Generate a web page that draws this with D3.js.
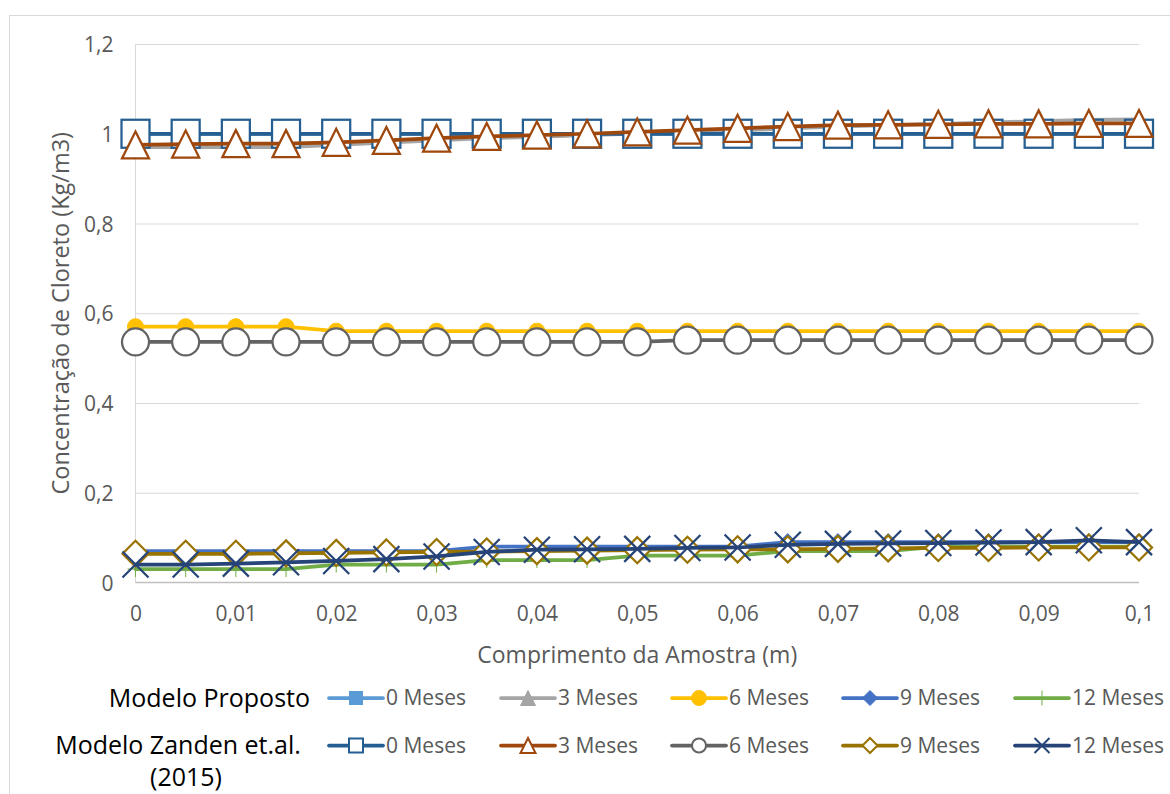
<!DOCTYPE html>
<html>
<head>
<meta charset="utf-8">
<script src="https://cdnjs.cloudflare.com/ajax/libs/d3/7.8.5/d3.min.js"></script>
<style>
  html, body { margin: 0; padding: 0; background: #ffffff; }
  svg { display: block; }
  text { font-family: "Open Sans", "Noto Sans", sans-serif; }
</style>
</head>
<body>
<svg id="chart" width="1170" height="794"></svg>
<script>
// Sample length positions (m)
const positions = [0, 0.005, 0.01, 0.015, 0.02, 0.025, 0.03, 0.035, 0.04, 0.045, 0.05,
                   0.055, 0.06, 0.065, 0.07, 0.075, 0.08, 0.085, 0.09, 0.095, 0.1];

// Modelo Proposto
const proposto0  = [1, 1, 1, 1, 1, 1, 1, 1, 1, 1, 1, 1, 1, 1, 1, 1, 1, 1, 1, 1, 1];
const proposto3  = [0.97, 0.97, 0.97, 0.97, 0.975, 0.98, 0.985, 0.99, 0.993, 0.997, 1.0,
                    1.003, 1.007, 1.012, 1.016, 1.019, 1.022, 1.025, 1.028, 1.031, 1.032];
const proposto6  = [0.57, 0.57, 0.57, 0.57, 0.56, 0.56, 0.56, 0.56, 0.56, 0.56, 0.56,
                    0.56, 0.56, 0.56, 0.56, 0.56, 0.56, 0.56, 0.56, 0.56, 0.56];
const proposto9  = [0.07, 0.07, 0.07, 0.07, 0.07, 0.07, 0.07, 0.08, 0.08, 0.08, 0.08,
                    0.08, 0.08, 0.09, 0.09, 0.09, 0.09, 0.09, 0.09, 0.09, 0.09];
const proposto12 = [0.03, 0.03, 0.03, 0.03, 0.04, 0.04, 0.04, 0.05, 0.05, 0.05, 0.06,
                    0.06, 0.06, 0.07, 0.07, 0.07, 0.08, 0.08, 0.08, 0.08, 0.08];

// Modelo Zanden et.al. (2015)
const zanden0  = [1, 1, 1, 1, 1, 1, 1, 1, 1, 1, 1, 1, 1, 1, 1, 1, 1, 1, 1, 1, 1];
const zanden3  = [0.975, 0.977, 0.978, 0.978, 0.981, 0.985, 0.99, 0.994, 0.997, 1.0, 1.004,
                  1.008, 1.012, 1.016, 1.019, 1.02, 1.021, 1.022, 1.022, 1.023, 1.023];
const zanden6  = [0.536, 0.536, 0.536, 0.536, 0.536, 0.536, 0.536, 0.536, 0.536, 0.536, 0.536,
                  0.54, 0.54, 0.54, 0.54, 0.54, 0.54, 0.54, 0.54, 0.54, 0.54];
const zanden9  = [0.064, 0.064, 0.064, 0.065, 0.066, 0.067, 0.068, 0.069, 0.07, 0.071, 0.072,
                  0.073, 0.074, 0.074, 0.075, 0.076, 0.077, 0.077, 0.078, 0.078, 0.078];
const zanden12 = [0.04, 0.04, 0.042, 0.045, 0.048, 0.052, 0.058, 0.068, 0.073, 0.074, 0.075,
                  0.077, 0.078, 0.084, 0.086, 0.087, 0.088, 0.089, 0.09, 0.094, 0.09];

const xTicks = [0, 0.01, 0.02, 0.03, 0.04, 0.05, 0.06, 0.07, 0.08, 0.09, 0.1];
const yTicks = [0, 0.2, 0.4, 0.6, 0.8, 1, 1.2];

const groupLabels = ["Modelo Proposto", "Modelo Zanden et.al.", "(2015)"];
const seriesLabels = ["0 Meses", "3 Meses", "6 Meses", "9 Meses", "12 Meses"];

const series = [
  { values: proposto0,  color: "#5B9BD5", marker: "square",   filled: true,  row: 0, col: 0 },
  { values: proposto3,  color: "#A5A5A5", marker: "triangle", filled: true,  row: 0, col: 1 },
  { values: proposto6,  color: "#FFC000", marker: "circle",   filled: true,  row: 0, col: 2 },
  { values: proposto9,  color: "#4472C4", marker: "diamond",  filled: true,  row: 0, col: 3 },
  { values: proposto12, color: "#70AD47", marker: "plus",     filled: true,  row: 0, col: 4 },
  { values: zanden0,    color: "#255E91", marker: "square",   filled: false, row: 1, col: 0 },
  { values: zanden3,    color: "#9E480E", marker: "triangle", filled: false, row: 1, col: 1 },
  { values: zanden6,    color: "#636363", marker: "circle",   filled: false, row: 1, col: 2 },
  { values: zanden9,    color: "#997300", marker: "diamond",  filled: false, row: 1, col: 3 },
  { values: zanden12,   color: "#264478", marker: "cross",    filled: false, row: 1, col: 4 }
];

const locale = d3.formatLocale({ decimal: ",", thousands: ".", grouping: [3], currency: ["", ""] });
const fmt = locale.format("~g");

const svg = d3.select("#chart");
const plot = { left: 135.5, right: 1139, top: 44, bottom: 582.5 };

const x = d3.scaleLinear().domain([0, 0.1]).range([plot.left, plot.right]);
const y = d3.scaleLinear().domain([0, 1.2]).range([plot.bottom, plot.top]);

// chart frame
svg.append("rect")
  .attr("x", 9.5).attr("y", 15.5)
  .attr("width", 1180).attr("height", 800)
  .attr("fill", "#ffffff").attr("stroke", "#d9d9d9").attr("stroke-width", 1);

// horizontal gridlines
svg.append("g")
  .attr("transform", `translate(${plot.left},0)`)
  .call(d3.axisLeft(y).tickValues(yTicks.filter(v => v > 0)).tickSize(-(plot.right - plot.left)).tickFormat(""))
  .call(g => g.select(".domain").remove())
  .call(g => g.selectAll("line").attr("stroke", "#d9d9d9").attr("stroke-width", 1));

// vertical axis line
svg.append("line")
  .attr("x1", plot.left).attr("x2", plot.left)
  .attr("y1", plot.top).attr("y2", plot.bottom)
  .attr("stroke", "#d9d9d9").attr("stroke-width", 1);

// horizontal axis line
svg.append("line")
  .attr("x1", plot.left).attr("x2", plot.right)
  .attr("y1", plot.bottom).attr("y2", plot.bottom)
  .attr("stroke", "#bfbfbf").attr("stroke-width", 1.5);

const tickFont = "'Open Sans', 'Noto Sans', sans-serif";

// y tick labels
const yAxis = svg.append("g")
  .attr("transform", `translate(${plot.left - 22},0)`)
  .call(d3.axisLeft(y).tickValues(yTicks).tickSize(0).tickFormat(fmt));
yAxis.select(".domain").remove();
yAxis.selectAll("text")
  .attr("fill", "#595959").attr("font-size", 21).attr("x", 0).attr("dy", "0.36em")
  .style("font-family", tickFont);

// x tick labels
const xAxis = svg.append("g")
  .attr("transform", `translate(0,613)`)
  .call(d3.axisBottom(x).tickValues(xTicks).tickSize(0).tickFormat(fmt));
xAxis.select(".domain").remove();
xAxis.selectAll("text")
  .attr("fill", "#595959").attr("font-size", 21).attr("y", 0).attr("dy", "0.36em")
  .style("font-family", tickFont);

// axis titles
svg.append("text")
  .attr("x", (plot.left + plot.right) / 2).attr("y", 663)
  .attr("text-anchor", "middle").attr("fill", "#595959").attr("font-size", 23)
  .text("Comprimento da Amostra (m)");

svg.append("text")
  .attr("transform", `translate(69,${(plot.top + plot.bottom) / 2}) rotate(-90)`)
  .attr("text-anchor", "middle").attr("fill", "#595959").attr("font-size", 23.5)
  .text("Concentração de Cloreto (Kg/m3)");

// marker drawing
function drawMarker(g, type, cx, cy, size, color, filled, sw) {
  const fill = filled ? color : "#ffffff";
  const h = size / 2;
  if (type === "square") {
    g.append("rect").attr("x", cx - h).attr("y", cy - h).attr("width", size).attr("height", size)
      .attr("fill", fill).attr("stroke", color).attr("stroke-width", sw);
  } else if (type === "triangle") {
    const th = size;
    g.append("path")
      .attr("d", `M${cx},${cy - th / 2}L${cx + h},${cy + th / 2}L${cx - h},${cy + th / 2}Z`)
      .attr("fill", fill).attr("stroke", color).attr("stroke-width", sw).attr("stroke-linejoin", "miter");
  } else if (type === "circle") {
    g.append("circle").attr("cx", cx).attr("cy", cy).attr("r", h)
      .attr("fill", fill).attr("stroke", color).attr("stroke-width", sw);
  } else if (type === "diamond") {
    g.append("path")
      .attr("d", `M${cx},${cy - h}L${cx + h},${cy}L${cx},${cy + h}L${cx - h},${cy}Z`)
      .attr("fill", fill).attr("stroke", color).attr("stroke-width", sw);
  } else if (type === "plus") {
    g.append("path")
      .attr("d", `M${cx - h},${cy}L${cx + h},${cy}M${cx},${cy - h}L${cx},${cy + h}`)
      .attr("fill", "none").attr("stroke", color).attr("stroke-width", sw);
  } else if (type === "cross") {
    g.append("path")
      .attr("d", `M${cx - h},${cy - h}L${cx + h},${cy + h}M${cx + h},${cy - h}L${cx - h},${cy + h}`)
      .attr("fill", "none").attr("stroke", color).attr("stroke-width", sw);
  }
}

const plotSize = { square: [15, 28], triangle: [16, 27], circle: [16, 27], diamond: [17, 26], plus: [16, 0], cross: [0, 26] };

const line = d3.line().x(d => x(d[0])).y(d => y(d[1]));

series.forEach(s => {
  const g = svg.append("g");
  const pts = positions.map((p, i) => [p, s.values[i]]);
  g.append("path").datum(pts)
    .attr("d", line).attr("fill", "none")
    .attr("stroke", s.color).attr("stroke-width", 3.75)
    .attr("stroke-linejoin", "round").attr("stroke-linecap", "round");
  const size = plotSize[s.marker][s.filled ? 0 : 1];
  pts.forEach(p => {
    drawMarker(g, s.marker, x(p[0]), y(p[1]), size, s.color, s.filled, s.filled ? 1 : 2.25);
  });
});

// legend
const legendRows = [698, 745.5];
const legendCols = [329, 501, 672, 843, 1015];
const legendLine = 54;

svg.append("text").attr("x", 310).attr("y", 698).attr("dy", "0.35em")
  .attr("text-anchor", "end").attr("font-size", 25).attr("fill", "#000000").text(groupLabels[0]);
svg.append("text").attr("x", 178).attr("y", 745).attr("dy", "0.35em")
  .attr("text-anchor", "middle").attr("font-size", 25).attr("fill", "#000000").text(groupLabels[1]);
svg.append("text").attr("x", 186).attr("y", 777).attr("dy", "0.35em")
  .attr("text-anchor", "middle").attr("font-size", 25).attr("fill", "#000000").text(groupLabels[2]);

const legendSize = { square: [13, 14], triangle: [15, 15], circle: [15, 14], diamond: [15, 15], plus: [15, 0], cross: [0, 15] };

series.forEach(s => {
  const g = svg.append("g");
  const x0 = legendCols[s.col];
  const cy = legendRows[s.row];
  g.append("line").attr("x1", x0).attr("x2", x0 + legendLine).attr("y1", cy).attr("y2", cy)
    .attr("stroke", s.color).attr("stroke-width", 3.75).attr("stroke-linecap", "round");
  drawMarker(g, s.marker, x0 + legendLine / 2, cy, legendSize[s.marker][s.filled ? 0 : 1], s.color, s.filled, s.filled ? 1 : 2);
  g.append("text").attr("x", x0 + legendLine + 3).attr("y", cy).attr("dy", "0.35em")
    .attr("font-size", 21).attr("fill", "#595959").text(seriesLabels[s.col]);
});
</script>
</body>
</html>
